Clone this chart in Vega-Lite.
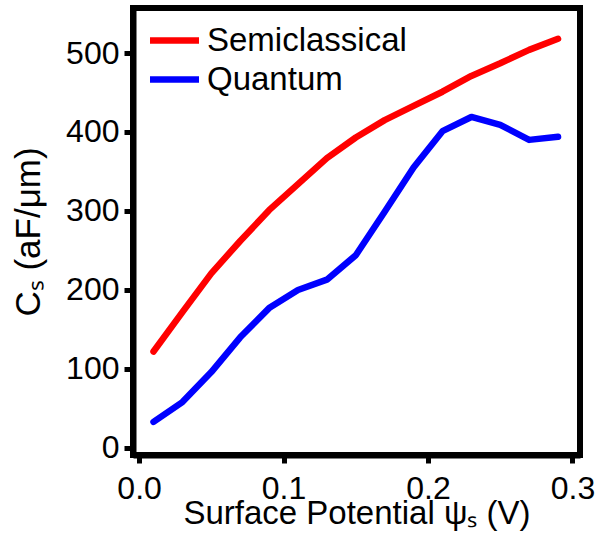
{
  "$schema": "https://vega.github.io/schema/vega-lite/v6.json",
  "autosize": "none",
  "padding": {"left": 133, "top": 8, "right": 17, "bottom": 84},
  "width": 447,
  "height": 447,
  "background": "white",
  "config": {
    "font": "Liberation Sans",
    "view": {"stroke": "black", "strokeWidth": 6},
    "axis": {"grid": false, "domainColor": "black", "domainWidth": 6, "tickColor": "black", "tickWidth": 5, "labelColor": "black", "titleColor": "black", "labelFont": "Liberation Sans", "titleFont": "Liberation Sans", "labelFontSize": 32, "titleFontSize": 33, "titleFontWeight": "normal"}
  },
  "data": {"values": [
    {"psi": 0.01, "cs": 122, "model": "Semiclassical"},
    {"psi": 0.03, "cs": 172, "model": "Semiclassical"},
    {"psi": 0.05, "cs": 221, "model": "Semiclassical"},
    {"psi": 0.07, "cs": 262, "model": "Semiclassical"},
    {"psi": 0.09, "cs": 301, "model": "Semiclassical"},
    {"psi": 0.11, "cs": 334, "model": "Semiclassical"},
    {"psi": 0.13, "cs": 367, "model": "Semiclassical"},
    {"psi": 0.15, "cs": 393, "model": "Semiclassical"},
    {"psi": 0.17, "cs": 415, "model": "Semiclassical"},
    {"psi": 0.19, "cs": 433, "model": "Semiclassical"},
    {"psi": 0.21, "cs": 451, "model": "Semiclassical"},
    {"psi": 0.23, "cs": 471, "model": "Semiclassical"},
    {"psi": 0.25, "cs": 487, "model": "Semiclassical"},
    {"psi": 0.27, "cs": 504, "model": "Semiclassical"},
    {"psi": 0.29, "cs": 518, "model": "Semiclassical"},
    {"psi": 0.01, "cs": 33, "model": "Quantum"},
    {"psi": 0.03, "cs": 58, "model": "Quantum"},
    {"psi": 0.05, "cs": 96, "model": "Quantum"},
    {"psi": 0.07, "cs": 140, "model": "Quantum"},
    {"psi": 0.09, "cs": 177, "model": "Quantum"},
    {"psi": 0.11, "cs": 200, "model": "Quantum"},
    {"psi": 0.13, "cs": 213, "model": "Quantum"},
    {"psi": 0.15, "cs": 244, "model": "Quantum"},
    {"psi": 0.17, "cs": 299, "model": "Quantum"},
    {"psi": 0.19, "cs": 355, "model": "Quantum"},
    {"psi": 0.21, "cs": 401, "model": "Quantum"},
    {"psi": 0.23, "cs": 419, "model": "Quantum"},
    {"psi": 0.25, "cs": 409, "model": "Quantum"},
    {"psi": 0.27, "cs": 390, "model": "Quantum"},
    {"psi": 0.29, "cs": 394, "model": "Quantum"}
  ]},
  "mark": {"type": "line", "strokeWidth": 6.5, "strokeCap": "round", "strokeJoin": "round"},
  "encoding": {
    "x": {"field": "psi", "type": "quantitative",
      "scale": {"domain": [-0.0042, 0.3052], "nice": false, "zero": false},
      "axis": {"values": [0, 0.1, 0.2, 0.3], "format": ".1f", "title": "Surface Potential ψₛ (V)", "tickSize": 8, "labelPadding": 10, "titlePadding": -7, "labelFlush": false}},
    "y": {"field": "cs", "type": "quantitative",
      "scale": {"domain": [-9, 557], "nice": false, "zero": false},
      "axis": {"values": [0, 100, 200, 300, 400, 500], "title": "Cₛ (aF/μm)", "titleFontSize": 35, "tickSize": 9, "labelPadding": 5, "titlePadding": 19}},
    "color": {"field": "model", "type": "nominal",
      "scale": {"domain": ["Semiclassical", "Quantum"], "range": ["#ff0000", "#0000ff"]},
      "legend": {"title": null, "orient": "none", "legendX": 25, "legendY": 16, "padding": 0, "symbolType": "M-2,0H2", "symbolSize": 600, "symbolStrokeWidth": 6.5, "symbolFillColor": "transparent", "labelFontSize": 33, "labelLimit": 400, "labelColor": "black", "labelFont": "Liberation Sans", "labelOffset": 16, "rowPadding": 5}}
  }
}
